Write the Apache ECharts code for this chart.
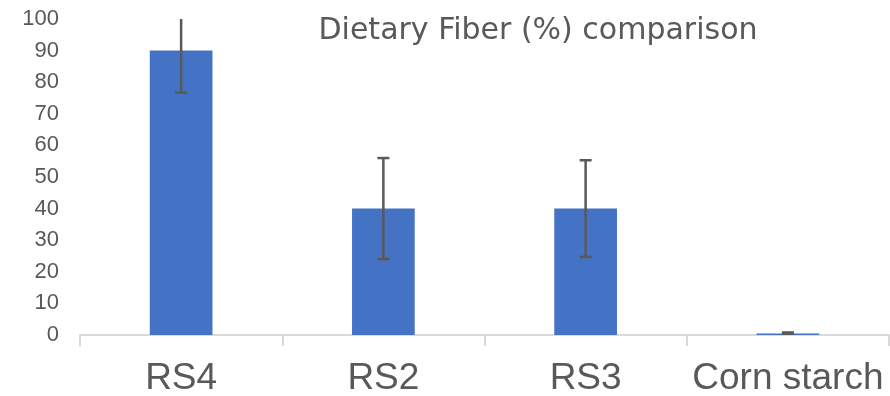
<!DOCTYPE html>
<html>
<head>
<meta charset="utf-8">
<script src="https://cdn.jsdelivr.net/npm/echarts@6/dist/echarts.min.js"></script>
<style>html,body{margin:0;padding:0;background:#fff}#c{width:890px;height:396px}</style>
</head>
<body>
<div id="c"></div>
<script>
const categories = ['RS4', 'RS2', 'RS3', 'Corn starch'];
const fiberValues = [90, 40, 40, 0.5];
const fiberErrors = [13.3, 16, 15.3, 0.3];
const titleText = 'Dietary Fiber (%) comparison';

const chart = echarts.init(document.getElementById('c'));
const errData = categories.map((c, i) => [i, fiberValues[i] - fiberErrors[i], fiberValues[i] + fiberErrors[i]]);

chart.setOption({
  animation: false,
  title: {
    text: titleText,
    left: 533, top: 11, textAlign: 'center',
    textStyle: { fontFamily: 'DejaVu Sans', fontSize: 30, fontWeight: 'normal', color: '#595959' }
  },
  grid: { left: 80, right: 1, top: 19, bottom: 61, outerBoundsMode: 'none', containLabel: false },
  xAxis: {
    type: 'category', data: categories,
    axisLine: { lineStyle: { color: '#d9d9d9', width: 2 } },
    axisTick: { show: true, interval: 0, length: 11, lineStyle: { color: '#d9d9d9', width: 2 } },
    axisLabel: { interval: 0, fontFamily: 'Liberation Sans', fontSize: 37, color: '#595959', margin: 25 }
  },
  yAxis: {
    type: 'value', min: 0, max: 100, interval: 10,
    axisLine: { show: false }, axisTick: { show: false }, splitLine: { show: false },
    axisLabel: { fontFamily: 'Liberation Sans', fontSize: 22, color: '#595959', margin: 21 }
  },
  series: [
    { type: 'bar', data: fiberValues, barWidth: '31%', itemStyle: { color: '#4472C4' } },
    {
      type: 'custom', clip: true, data: errData, z: 10,
      renderItem: function (params, api) {
        const x = api.coord([api.value(0), api.value(1)])[0];
        const lo = api.coord([api.value(0), api.value(1)])[1];
        const hi = api.coord([api.value(0), api.value(2)])[1];
        const hw = 6;
        const style = { stroke: '#595959', lineWidth: 2.5 };
        return {
          type: 'group',
          children: [
            { type: 'line', shape: { x1: x, y1: lo, x2: x, y2: hi }, style: style },
            { type: 'line', shape: { x1: x - hw, y1: lo, x2: x + hw, y2: lo }, style: style },
            { type: 'line', shape: { x1: x - hw, y1: hi, x2: x + hw, y2: hi }, style: style }
          ]
        };
      }
    }
  ]
});
</script>
</body>
</html>
